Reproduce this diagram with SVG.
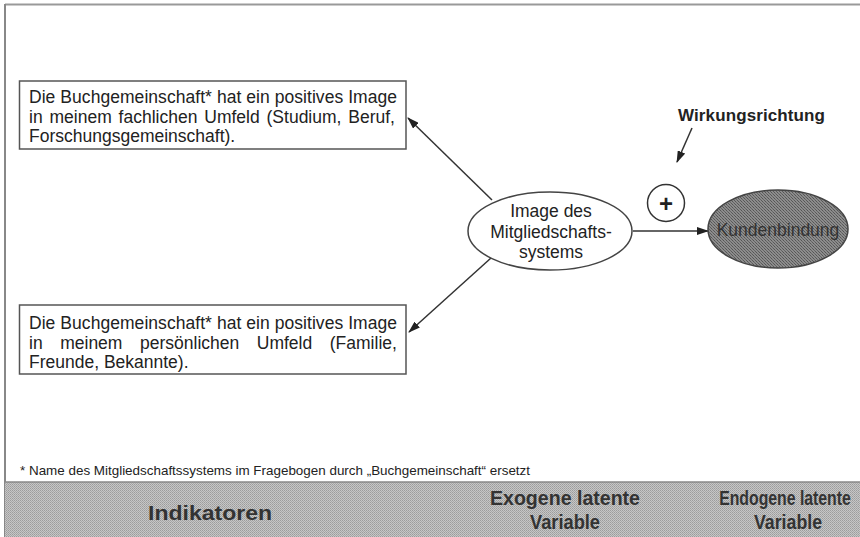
<svg xmlns="http://www.w3.org/2000/svg" width="860" height="537" viewBox="0 0 860 537">
<defs>
<style>
.t{font-family:"Liberation Sans",Arial,sans-serif;font-size:17.5px;fill:#222}
.b{font-family:"Liberation Sans",Arial,sans-serif;font-weight:bold}
.box{fill:#fff;stroke:#555;stroke-width:1.5}
.con{stroke:#333;stroke-width:1.5;fill:none;marker-end:url(#ah)}
.band{font-family:"Liberation Sans",Arial,sans-serif;font-weight:bold;font-size:20px;fill:#333;text-anchor:middle}
</style>
<marker id="ah" markerUnits="userSpaceOnUse" markerWidth="12" markerHeight="8" refX="11" refY="4" orient="auto">
<path d="M0,0 L12,4 L0,8 z" fill="#222"/>
</marker>
<pattern id="dots" width="2" height="2" patternUnits="userSpaceOnUse">
<rect width="2" height="2" fill="#c6c6c6"/>
<rect width="1" height="1" fill="#9c9c9c"/>
<rect x="1" y="1" width="1" height="1" fill="#a8a8a8"/>
</pattern>
<pattern id="hatch" width="3" height="3" patternUnits="userSpaceOnUse">
<rect width="3" height="3" fill="#8c8c8c"/>
<rect width="1" height="1" fill="#555"/>
<rect x="1" y="1" width="1" height="1" fill="#666"/>
<rect x="2" y="2" width="1" height="1" fill="#5a5a5a"/>
</pattern>
</defs>
<rect width="860" height="537" fill="#fff"/>
<g id="frame">
<line x1="5" y1="4.5" x2="860" y2="4.5" stroke="#999" stroke-width="2"/>
<line x1="5" y1="4" x2="5" y2="537" stroke="#888" stroke-width="2"/>
</g>
<g id="connectors">
<line class="con" x1="492" y1="200" x2="408" y2="118"/>
<line class="con" x1="491" y1="258" x2="409" y2="332"/>
<line class="con" x1="633" y1="231" x2="708" y2="231"/>
<line class="con" x1="692" y1="128" x2="677" y2="162"/>
</g>
<g id="indicator1">
<rect class="box" x="19.5" y="81" width="386.5" height="68"/>
<text class="t" x="29" y="103" textLength="368" lengthAdjust="spacing">Die Buchgemeinschaft* hat ein positives Image</text>
<text class="t" x="29" y="122.5" word-spacing="2">in meinem fachlichen Umfeld (Studium, Beruf,</text>
<text class="t" x="29" y="142">Forschungsgemeinschaft).</text>
</g>
<g id="indicator2">
<rect class="box" x="19.5" y="305" width="386.5" height="69"/>
<text class="t" x="29" y="329" textLength="368" lengthAdjust="spacing">Die Buchgemeinschaft* hat ein positives Image</text>
<text class="t" x="29" y="348.5" word-spacing="12.7">in meinem persönlichen Umfeld (Familie,</text>
<text class="t" x="29" y="368">Freunde, Bekannte).</text>
</g>
<g id="exogenous">
<ellipse cx="550" cy="231" rx="82" ry="39" fill="#fff" stroke="#444" stroke-width="1.5"/>
<text class="t" x="551" y="217" text-anchor="middle">Image des</text>
<text class="t" x="551" y="238" text-anchor="middle">Mitgliedschafts-</text>
<text class="t" x="551" y="258" text-anchor="middle">systems</text>
</g>
<g id="endogenous">
<ellipse cx="778" cy="229" rx="70" ry="39" fill="url(#hatch)" stroke="#444" stroke-width="1.5"/>
<text class="t" x="778" y="236" text-anchor="middle" font-size="17" style="fill:#333">Kundenbindung</text>
</g>
<g id="plus">
<circle cx="666" cy="203" r="18.5" fill="#fff" stroke="#333" stroke-width="1.5"/>
<text class="b" x="666" y="211.5" font-size="24" text-anchor="middle" fill="#222">+</text>
</g>
<g id="direction">
<text class="b" x="678" y="121" font-size="17" textLength="147" lengthAdjust="spacing" fill="#222">Wirkungsrichtung</text>
</g>
<g id="footnote">
<text x="20" y="475" font-family="Liberation Sans, Arial, sans-serif" font-size="13.5" fill="#222" textLength="510" lengthAdjust="spacingAndGlyphs">* Name des Mitgliedschaftssystems im Fragebogen durch „Buchgemeinschaft“ ersetzt</text>
</g>
<g id="legend">
<rect x="5" y="482" width="855" height="55" fill="url(#dots)"/>
<line x1="5" y1="482" x2="860" y2="482" stroke="#888" stroke-width="1.5"/>
<text class="band" x="210" y="520" font-size="22" textLength="124" lengthAdjust="spacingAndGlyphs">Indikatoren</text>
<text class="band" x="565" y="505" textLength="150" lengthAdjust="spacingAndGlyphs">Exogene latente</text>
<text class="band" x="565" y="529" textLength="70" lengthAdjust="spacingAndGlyphs">Variable</text>
<text class="band" transform="translate(785,505) scale(0.79,1)" x="0" y="0">Endogene latente</text>
<text class="band" x="788" y="529" textLength="68" lengthAdjust="spacingAndGlyphs">Variable</text>
</g>
</svg>
